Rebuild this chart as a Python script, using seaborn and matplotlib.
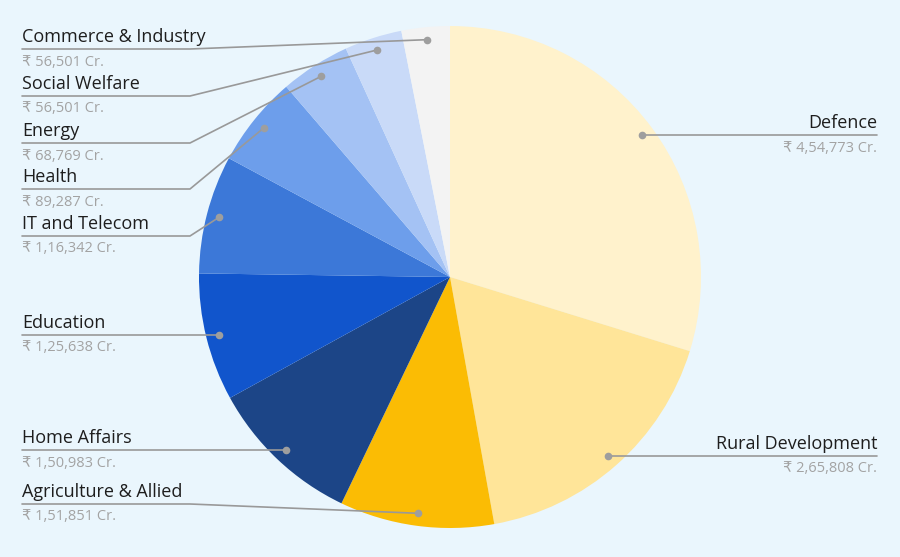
import matplotlib
matplotlib.use("Agg")
import matplotlib.pyplot as plt
import seaborn as sns
import numpy as np

# ---- data ----
categories = ["Defence", "Rural Development", "Agriculture & Allied", "Home Affairs",
              "Education", "IT and Telecom", "Health", "Energy", "Social Welfare",
              "Commerce & Industry"]
# slice sizes as drawn in the picture (Commerce slice is drawn smaller than its label)
values = [454773, 265808, 151851, 150983, 125638, 116342, 89287, 68769, 56501, 47500]
# amounts printed under each label
label_amounts = ["4,54,773", "2,65,808", "1,51,851", "1,50,983", "1,25,638",
                 "1,16,342", "89,287", "68,769", "56,501", "56,501"]
colors = ["#FFF2CC", "#FFE599", "#FBBC04", "#1C4587", "#1155CC", "#3C78D8",
          "#6D9EEB", "#A4C2F4", "#C9DAF8", "#F3F3F3"]

# ---- layout (pixel coords, y from top) ----
W, H = 900, 557
CX, CY, R = 450, 277, 251
side = ["R", "R", "L", "L", "L", "L", "L", "L", "L", "L"]
line_y = [None, None, 504, None, None, 236, 189, 143, 96, 49]   # None -> dot level
ELBOW_X = 190
LEFT_X, RIGHT_X = 22, 877
BG = "#EAF6FD"

sns.set_theme(style="white")
plt.rcParams["font.family"] = ["Open Sans", "DejaVu Sans"]


def Y(py):
    return H - py


fig = plt.figure(figsize=(9, 5.57), dpi=100, facecolor=BG)
ax = fig.add_axes([0, 0, 1, 1])
ax.set_facecolor(BG)

wedges, _ = ax.pie(values, colors=colors, startangle=90, counterclock=False,
                   center=(CX, Y(CY)), radius=R,
                   wedgeprops=dict(linewidth=0, antialiased=True))
ax.set_xlim(0, W)
ax.set_ylim(0, H)
ax.set_aspect("equal")
ax.axis("off")

line_col = "#999999"
name_kw = dict(fontsize=13, color="#1E1E1E", fontweight=500, va="center")
val_kw = dict(fontsize=10.5, color="#A3A3A3", va="center")
for w, cat, amt, sd, ly in zip(wedges, categories, label_amounts, side, line_y):
    mid = np.deg2rad((w.theta1 + w.theta2) / 2)
    dx = CX + 0.95 * R * np.cos(mid)
    dy = Y(CY) + 0.95 * R * np.sin(mid)
    ax.plot([dx], [dy], "o", color="#9E9E9E", ms=5.5, mec="none", zorder=5)
    txt = "₹ " + amt + " Cr."
    if sd == "R":
        ax.plot([dx, RIGHT_X], [dy, dy], color=line_col, lw=1.2, zorder=4)
        ax.text(RIGHT_X, dy + 12, cat, ha="right", **name_kw)
        ax.text(RIGHT_X, dy - 13, txt, ha="right", **val_kw)
    else:
        if ly is None:
            ty = dy
            ax.plot([LEFT_X, dx], [dy, dy], color=line_col, lw=1.2, zorder=4)
        else:
            ty = Y(ly)
            ax.plot([LEFT_X, ELBOW_X, dx], [ty, ty, dy], color=line_col, lw=1.2, zorder=4)
        ax.text(LEFT_X, ty + 12, cat, ha="left", **name_kw)
        ax.text(LEFT_X, ty - 13, txt, ha="left", **val_kw)

fig.savefig("out.png", dpi=100, facecolor=BG)
